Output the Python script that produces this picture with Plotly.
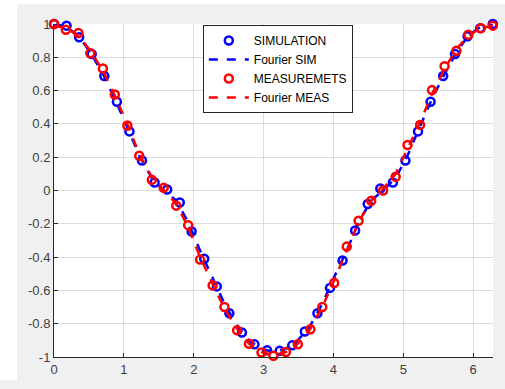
import plotly.graph_objects as go

# --- data ---
sim_x = [0.00, 0.18, 0.36, 0.54, 0.72, 0.90, 1.08, 1.26, 1.44, 1.62, 1.80, 1.97,
         2.15, 2.33, 2.51, 2.69, 2.87, 3.05, 3.23, 3.41, 3.59, 3.77, 3.95, 4.13,
         4.31, 4.49, 4.67, 4.85, 5.03, 5.21, 5.39, 5.57, 5.74, 5.92, 6.10, 6.28]
sim_y = [1.00, 0.99, 0.92, 0.82, 0.688, 0.533, 0.355, 0.18, 0.048, 0.006, -0.072, -0.246,
         -0.41, -0.576, -0.737, -0.853, -0.924, -0.96, -0.963, -0.93, -0.847, -0.737, -0.585, -0.42,
         -0.24, -0.081, 0.012, 0.048, 0.18, 0.355, 0.533, 0.688, 0.82, 0.926, 0.975, 1.00]

meas_x = [0.00, 0.17, 0.35, 0.52, 0.70, 0.87, 1.05, 1.22, 1.40, 1.57, 1.75, 1.92,
          2.09, 2.27, 2.44, 2.62, 2.79, 2.97, 3.14, 3.32, 3.49, 3.67, 3.84, 4.01,
          4.19, 4.36, 4.54, 4.71, 4.89, 5.06, 5.24, 5.41, 5.59, 5.76, 5.93, 6.11, 6.28]
meas_y = [1.00, 0.965, 0.946, 0.824, 0.733, 0.577, 0.39, 0.209, 0.064, 0.016, -0.091, -0.208,
          -0.415, -0.57, -0.70, -0.84, -0.92, -0.973, -0.992, -0.97, -0.924, -0.833, -0.70, -0.556,
          -0.337, -0.182, -0.062, 0.0, 0.083, 0.273, 0.394, 0.603, 0.746, 0.839, 0.936, 0.975, 0.99]

fit_x = meas_x
fit_sim_y = [1.00, 0.985, 0.93, 0.83, 0.70, 0.55, 0.38, 0.21, 0.075, 0.0, -0.06, -0.19,
             -0.36, -0.52, -0.68, -0.81, -0.90, -0.95, -0.97, -0.95, -0.90, -0.81, -0.68, -0.52,
             -0.36, -0.19, -0.06, 0.0, 0.075, 0.21, 0.38, 0.55, 0.70, 0.83, 0.93, 0.985, 1.00]
fit_meas_y = [0.99, 0.975, 0.93, 0.84, 0.72, 0.57, 0.40, 0.22, 0.08, 0.0, -0.08, -0.22,
              -0.40, -0.56, -0.71, -0.83, -0.92, -0.97, -0.99, -0.97, -0.92, -0.83, -0.70, -0.54,
              -0.36, -0.19, -0.06, 0.01, 0.10, 0.25, 0.41, 0.58, 0.73, 0.85, 0.93, 0.975, 0.99]

x_tickvals = [0, 1, 2, 3, 4, 5, 6]
x_ticktext = ["0", "1", "2", "3", "4", "5", "6"]
y_tickvals = [-1, -0.8, -0.6, -0.4, -0.2, 0, 0.2, 0.4, 0.6, 0.8, 1]
y_ticktext = ["-1", "-0.8", "-0.6", "-0.4", "-0.2", "0", "0.2", "0.4", "0.6", "0.8", "1"]

BLUE = "#0000ff"
RED = "#ff0000"

fig = go.Figure()
fig.add_trace(go.Scatter(x=sim_x, y=sim_y, mode="markers", name="SIMULATION", cliponaxis=False,
                         marker=dict(symbol="circle-open", size=8, color=BLUE,
                                     line=dict(width=2.5, color=BLUE))))
fig.add_trace(go.Scatter(x=fit_x, y=fit_sim_y, mode="lines", name="Fourier SIM", cliponaxis=False,
                         line=dict(color=BLUE, width=2.5, dash="dash")))
fig.add_trace(go.Scatter(x=meas_x, y=meas_y, mode="markers", name="MEASUREMETS", cliponaxis=False,
                         marker=dict(symbol="circle-open", size=8, color=RED,
                                     line=dict(width=2.5, color=RED))))
fig.add_trace(go.Scatter(x=fit_x, y=fit_meas_y, mode="lines", name="Fourier MEAS", cliponaxis=False,
                         line=dict(color=RED, width=2.5, dash="dash")))

axis_common = dict(showgrid=True, gridcolor="#dcdcdc", gridwidth=1,
                   showline=True, linecolor="#262626", linewidth=1,
                   ticks="inside", ticklen=4, tickcolor="#262626",
                   tickfont=dict(family="Liberation Sans, Arial", size=13, color="#404040"),
                   zeroline=False, mirror=False)

fig.update_xaxes(range=[0, 6.2832], tickvals=x_tickvals, ticktext=x_ticktext, **axis_common)
fig.update_yaxes(range=[-1, 1], tickvals=y_tickvals, ticktext=y_ticktext, **axis_common)

fig.update_layout(
    width=505, height=389,
    margin=dict(l=54, r=12, t=24, b=21),
    paper_bgcolor="#f0f0f0",
    plot_bgcolor="white",
    showlegend=True,
    legend=dict(x=0.339, y=0.997, xanchor="left", yanchor="top",
                bgcolor="white", bordercolor="#262626", borderwidth=1,
                font=dict(family="Liberation Sans, Arial", size=12, color="black"),
                tracegroupgap=0, itemwidth=40),
    shapes=[
        dict(type="rect", xref="paper", yref="paper", x0=-0.13, x1=-0.0843, y0=-0.07, y1=1.08,
             fillcolor="white", line=dict(width=0), layer="above"),
        dict(type="rect", xref="paper", yref="paper", x0=-0.13, x1=1.05, y0=1.06, y1=1.08,
             fillcolor="white", line=dict(width=0), layer="above"),
    ],
)

fig.write_html("out.html")
